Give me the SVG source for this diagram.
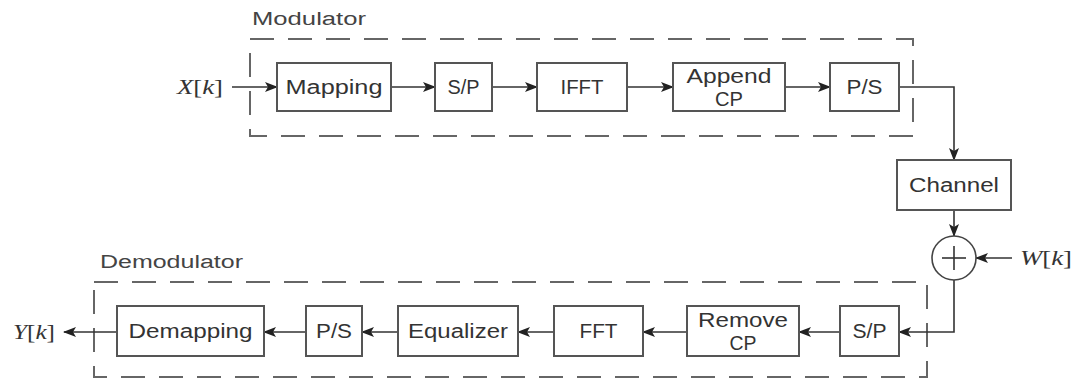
<svg xmlns="http://www.w3.org/2000/svg" width="1075" height="381" viewBox="0 0 1075 381">
<defs>
<marker id="ah" markerWidth="13" markerHeight="10" refX="12" refY="5" orient="auto" markerUnits="userSpaceOnUse">
<path d="M0,0 L13,5 L0,10 L3,5 Z" fill="#222"/>
</marker>
<style>
.box{fill:#fff;stroke:#555;stroke-width:2}
.dash{fill:none;stroke:#666;stroke-width:2;stroke-dasharray:24 14}
.lbl{font-family:"Liberation Sans",Arial,sans-serif;font-size:20px;fill:#333;text-anchor:middle;dominant-baseline:central}
.title{font-family:"Liberation Sans",Arial,sans-serif;font-size:18px;fill:#444}
.var{font-family:"Liberation Serif","Times New Roman",serif;font-size:20px;fill:#333;dominant-baseline:central}
.it{font-style:italic}
.ln{fill:none;stroke:#333;stroke-width:1.6}
</style>
</defs>
<rect width="1075" height="381" fill="#fff"/>
<g id="modulator">
<rect class="dash" x="250" y="39" width="663" height="97"/>
<text class="title" x="252" y="25" textLength="114" lengthAdjust="spacingAndGlyphs">Modulator</text>
</g>
<g id="demodulator">
<rect class="dash" x="94" y="282" width="833" height="95"/>
<text class="title" x="100" y="268" textLength="143" lengthAdjust="spacingAndGlyphs">Demodulator</text>
</g>
<g id="connectors">
<line class="ln" x1="232" y1="87" x2="277" y2="87" marker-end="url(#ah)"/>
<line class="ln" x1="391" y1="87" x2="435" y2="87" marker-end="url(#ah)"/>
<line class="ln" x1="492" y1="87" x2="537" y2="87" marker-end="url(#ah)"/>
<line class="ln" x1="627" y1="87" x2="673" y2="87" marker-end="url(#ah)"/>
<line class="ln" x1="785" y1="87" x2="830" y2="87" marker-end="url(#ah)"/>
<polyline class="ln" points="899,87 954,87 954,160" marker-end="url(#ah)"/>
<line class="ln" x1="954" y1="210" x2="954" y2="236" marker-end="url(#ah)"/>
<line class="ln" x1="1012" y1="258" x2="976" y2="258" marker-end="url(#ah)"/>
<polyline class="ln" points="954,280 954,332 899,332" marker-end="url(#ah)"/>
<line class="ln" x1="840" y1="332" x2="799" y2="332" marker-end="url(#ah)"/>
<line class="ln" x1="687" y1="332" x2="643" y2="332" marker-end="url(#ah)"/>
<line class="ln" x1="554" y1="332" x2="518" y2="332" marker-end="url(#ah)"/>
<line class="ln" x1="398" y1="332" x2="362" y2="332" marker-end="url(#ah)"/>
<line class="ln" x1="306" y1="332" x2="264" y2="332" marker-end="url(#ah)"/>
<line class="ln" x1="117" y1="332" x2="64" y2="332" marker-end="url(#ah)"/>
</g>
<g id="xk"><text class="var" x="177" y="87" textLength="46" lengthAdjust="spacingAndGlyphs"><tspan class="it">X</tspan>[<tspan class="it">k</tspan>]</text></g>
<g id="mapping"><rect class="box" x="277" y="63" width="114" height="48"/><text class="lbl" x="334" y="87" textLength="97" lengthAdjust="spacingAndGlyphs">Mapping</text></g>
<g id="sp1"><rect class="box" x="435" y="63" width="57" height="48"/><text class="lbl" x="463.500" y="87" textLength="32" lengthAdjust="spacingAndGlyphs">S/P</text></g>
<g id="ifft"><rect class="box" x="537" y="63" width="90" height="48"/><text class="lbl" x="582" y="87" textLength="43" lengthAdjust="spacingAndGlyphs">IFFT</text></g>
<g id="appendcp"><rect class="box" x="673" y="63" width="112" height="48"/><text class="lbl" x="729" y="76" textLength="85" lengthAdjust="spacingAndGlyphs">Append</text><text class="lbl" x="729" y="99" textLength="28" lengthAdjust="spacingAndGlyphs">CP</text></g>
<g id="ps1"><rect class="box" x="830" y="63" width="69" height="48"/><text class="lbl" x="864.500" y="87" textLength="36" lengthAdjust="spacingAndGlyphs">P/S</text></g>
<g id="channel"><rect class="box" x="897" y="160" width="114" height="50"/><text class="lbl" x="954" y="185" textLength="90" lengthAdjust="spacingAndGlyphs">Channel</text></g>
<g id="adder"><circle cx="954" cy="258" r="22" fill="#fff" stroke="#444" stroke-width="1.6"/><line class="ln" x1="942" y1="258" x2="966" y2="258"/><line class="ln" x1="954" y1="246" x2="954" y2="270"/></g>
<g id="wk"><text class="var" x="1020" y="258" textLength="52" lengthAdjust="spacingAndGlyphs"><tspan class="it">W</tspan>[<tspan class="it">k</tspan>]</text></g>
<g id="sp2"><rect class="box" x="840" y="306" width="59" height="50"/><text class="lbl" x="869.500" y="331" textLength="34" lengthAdjust="spacingAndGlyphs">S/P</text></g>
<g id="removecp"><rect class="box" x="687" y="306" width="112" height="50"/><text class="lbl" x="743" y="320" textLength="90" lengthAdjust="spacingAndGlyphs">Remove</text><text class="lbl" x="743" y="343" textLength="27" lengthAdjust="spacingAndGlyphs">CP</text></g>
<g id="fft"><rect class="box" x="554" y="306" width="89" height="50"/><text class="lbl" x="598.500" y="331" textLength="38" lengthAdjust="spacingAndGlyphs">FFT</text></g>
<g id="equalizer"><rect class="box" x="398" y="306" width="120" height="50"/><text class="lbl" x="458" y="331" textLength="100" lengthAdjust="spacingAndGlyphs">Equalizer</text></g>
<g id="ps2"><rect class="box" x="306" y="306" width="56" height="50"/><text class="lbl" x="334" y="331" textLength="36" lengthAdjust="spacingAndGlyphs">P/S</text></g>
<g id="demapping"><rect class="box" x="117" y="306" width="147" height="50"/><text class="lbl" x="190.500" y="331" textLength="124" lengthAdjust="spacingAndGlyphs">Demapping</text></g>
<g id="yk"><text class="var" x="13" y="332" textLength="42" lengthAdjust="spacingAndGlyphs"><tspan class="it">Y</tspan>[<tspan class="it">k</tspan>]</text></g>
</svg>
